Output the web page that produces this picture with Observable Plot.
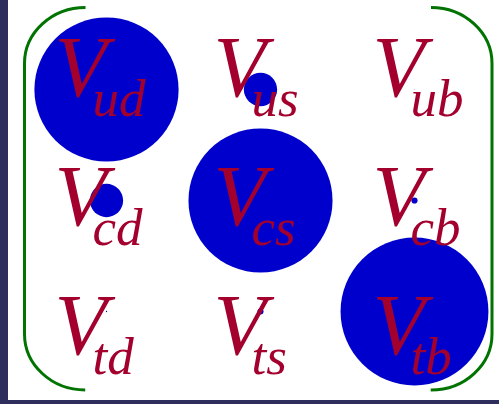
<!DOCTYPE html>
<html><head><meta charset="utf-8">
<script src="https://cdn.jsdelivr.net/npm/d3@7"></script>
<script src="https://cdn.jsdelivr.net/npm/@observablehq/plot@0.6"></script>
<style>
html,body{margin:0;padding:0;background:#2e2e5c;}
#wrap{position:relative;width:499px;height:404px;overflow:hidden;background:#2e2e5c;}
#wrap svg{position:absolute;left:8px;top:0;}
</style></head><body><div id="wrap"></div>
<script>
// CKM matrix magnitudes |V_ij|
const rows = ["u", "c", "t"];
const cols = ["d", "s", "b"];
const rowU = [0.97435, 0.22500, 0.00369];
const rowC = [0.22486, 0.97349, 0.04182];
const rowT = [0.00857, 0.04110, 0.99912];
const magnitudes = [rowU, rowC, rowT];

const cells = rows.flatMap((r, i) => cols.map((c, j) => ({row: r, col: c, label: r + c, value: magnitudes[i][j]})));

const W = 491, H = 400;

// bracket geometry (rounded frame with straight top/bottom removed)
const bx0 = 16, bx1 = 483.5, by0 = 7, by1 = 389.5, rx = 61, ry = 56;
const BW = bx1 - bx0, BH = by1 - by0;
const Tlen = BW - 2 * rx;
const per = Math.PI * (3 * (rx + ry) - Math.sqrt((3 * rx + ry) * (rx + 3 * ry)));
const arc = per / 4;
const Slen = 2 * arc + (BH - 2 * ry);

const circles = Plot.plot({
  width: W, height: H, margin: 0,
  style: {background: "white"},
  x: {type: "point", domain: cols, range: [98, 406], padding: 0, axis: null},
  y: {type: "point", domain: rows, range: [89, 311], padding: 0, axis: null},
  r: {type: "linear", domain: [0, 1], range: [0, 74]},
  marks: [
    Plot.frame({stroke: "#007300", strokeWidth: 3, rx, ry,
      insetLeft: bx0, insetRight: W - bx1, insetTop: by0, insetBottom: H - by1,
      strokeDasharray: `0 ${Tlen} ${Slen} ${Tlen} ${Slen} 0`}),
    Plot.dot(cells, {x: "col", y: "row", r: "value", fill: "#0000cc", stroke: null})
  ]
});

const font = {fontFamily: "'Liberation Serif', 'Times New Roman', serif", fontStyle: "italic", fill: "#a3002d", textAnchor: "start", lineAnchor: "bottom"};
const labels = Plot.plot({
  width: W, height: H, margin: 0,
  style: {background: "transparent"},
  x: {type: "point", domain: cols, range: [46, 364], padding: 0, axis: null},
  y: {type: "point", domain: rows, range: [95, 353], padding: 0, axis: null},
  marks: [
    Plot.text(cells, {x: "col", y: "row", text: () => "V", fontSize: 86, ...font}),
    Plot.text(cells, {x: "col", y: "row", text: "label", fontSize: 53, dx: 38, dy: 20, ...font})
  ]
});

const wrap = document.getElementById("wrap");
wrap.appendChild(circles);
wrap.appendChild(labels);
</script></body></html>
